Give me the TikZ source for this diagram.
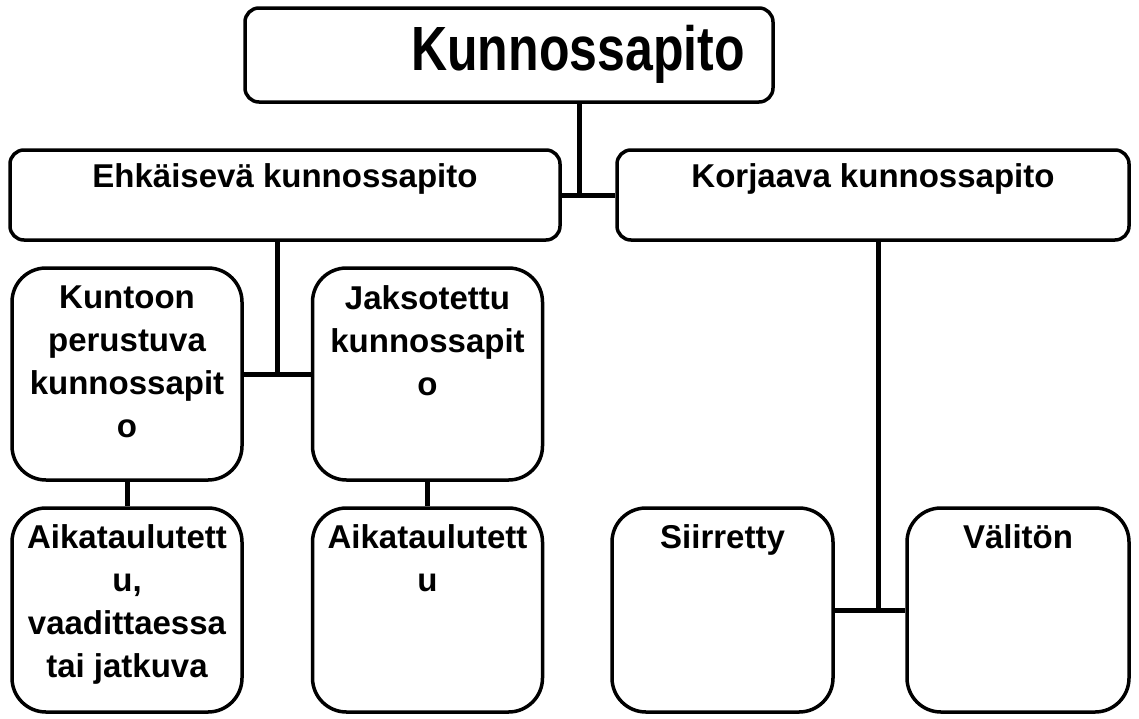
\documentclass[tikz,border=0pt]{standalone}
\usepackage{fontspec}
\usepackage{graphicx}
\setmainfont{Liberation Sans}
\usetikzlibrary{positioning}
\begin{document}
\begin{tikzpicture}[x=1pt, y=-1pt, line join=round,
		box/.style={draw, line width=3.5pt, rounded corners=14pt, inner sep=0},
		tall/.style={box, rounded corners=34pt, minimum width=230pt},
		txt/.style={inner sep=0, align=center, font=\fontsize{33}{43}\selectfont\bfseries},
		conn/.style={line width=5pt, line cap=butt}]
	\useasboundingbox (0,0) rectangle (1139,718);
	% ylin taso
	\node[box, minimum width=528pt, minimum height=94pt] (top) at (509,55) {};
	\node[txt, font=\fontsize{50}{60}\selectfont\bfseries, anchor=base] (topT) at (578,70) {\scalebox{1}[1.25]{Kunnossapito}};
	% toinen taso
	\node[box, minimum width=550pt, minimum height=90pt] (ehk) at (285,195) {};
	\node[box, minimum width=512pt, minimum height=90pt] (kor) at (873,195) {};
	\node[txt, below=15pt of ehk.north] (ehkT) {Ehkäisevä kunnossapito};
	\node[txt, below=15pt of kor.north] (korT) {Korjaava kunnossapito};
	% kolmas taso
	\node[tall, minimum height=212pt] (kun) at (127,374) {};
	\node[tall, minimum height=212pt] (jak) at (427.5,374) {};
	\node[txt, below=19pt of kun.north] (kunT) {Kuntoon\\perustuva\\kunnossapit\\o};
	\node[txt, below=19pt of jak.north] (jakT) {Jaksotettu\\kunnossapit\\o};
	% alin taso
	\node[tall, minimum height=204pt] (aik1) at (127,610) {};
	\node[tall, minimum height=204pt] (aik2) at (427.5,610) {};
	\node[tall, minimum width=221pt, minimum height=204pt] (sii) at (722.5,610) {};
	\node[tall, minimum width=222pt, minimum height=204pt] (val) at (1018,610) {};
	\node[txt, below=18pt of aik1.north] (aik1T) {Aikataulutett\\u,\\vaadittaessa\\tai jatkuva};
	\node[txt, below=18pt of aik2.north] (aik2T) {Aikataulutett\\u};
	\node[txt, below=18pt of sii.north] (siiT) {Siirretty};
	\node[txt, below=18pt of val.north] (valT) {Välitön};
	% yhteydet
	\coordinate (j1) at (579,195);
	\coordinate (j2) at (277,374);
	\coordinate (j3) at (878,610);
	\draw[conn] (top.south -| j1) -- (j1);
	\draw[conn] (ehk.east) -- (kor.west);
	\draw[conn] (ehk.south -| j2) -- (j2);
	\draw[conn] (kun.east) -- (jak.west);
	\draw[conn] (kun.south) -- (aik1.north);
	\draw[conn] (jak.south) -- (aik2.north);
	\draw[conn] (kor.south -| j3) -- (j3);
	\draw[conn] (sii.east) -- (val.west);
\end{tikzpicture}
\end{document}
